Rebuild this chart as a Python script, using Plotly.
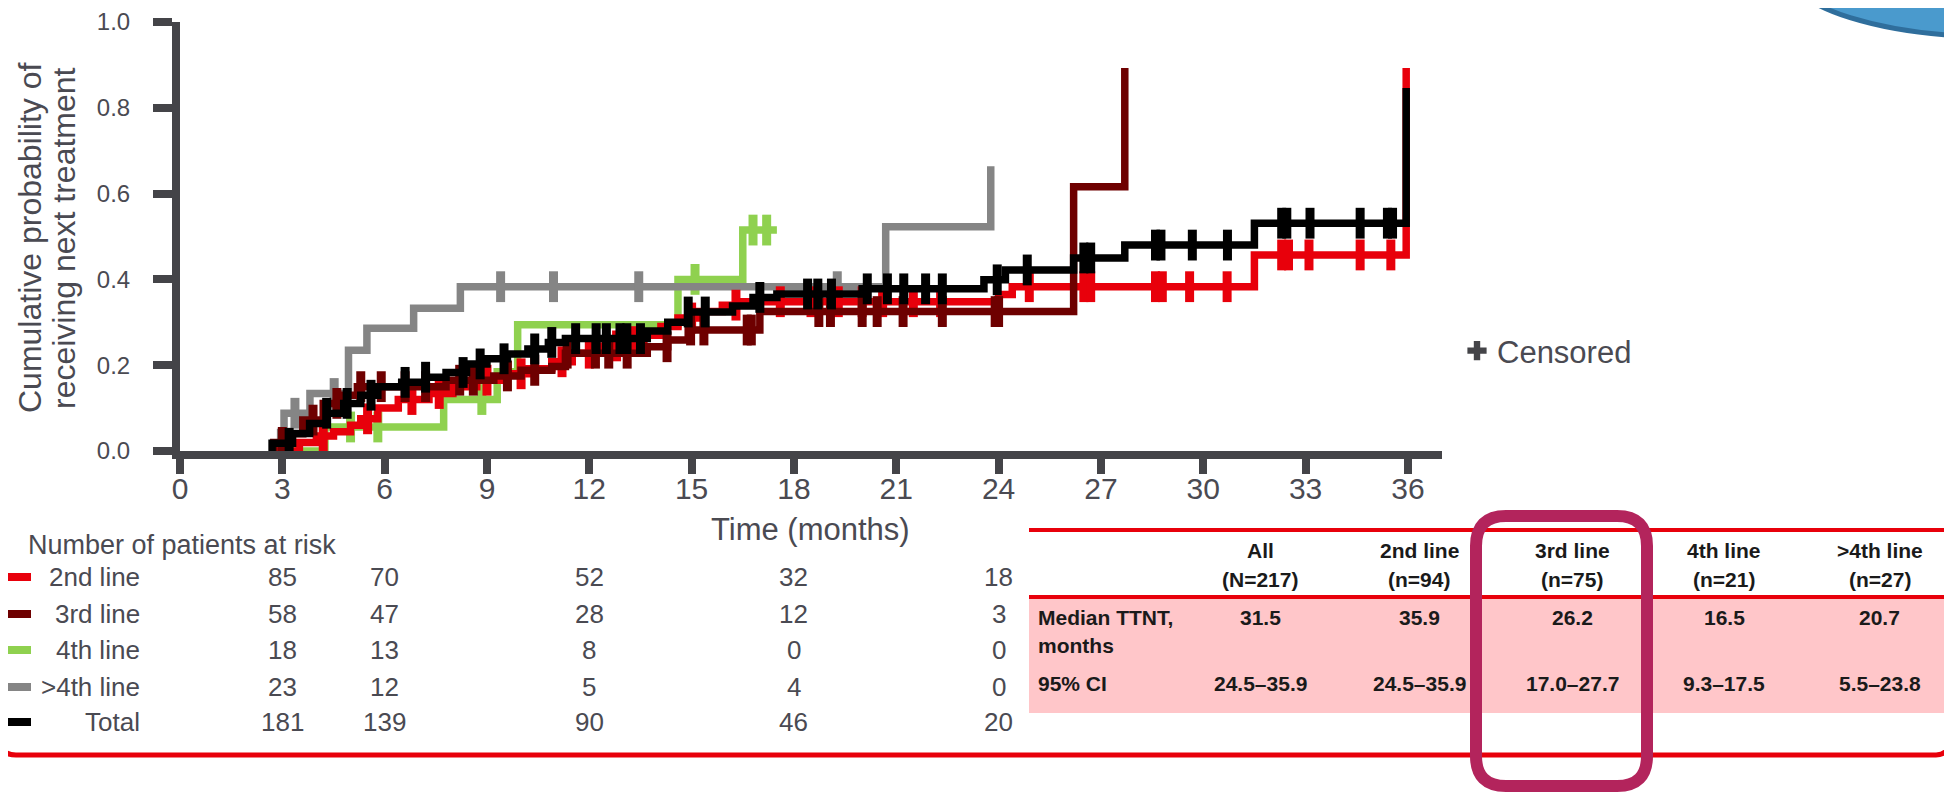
import plotly.graph_objects as go

FONT = "Arial, Liberation Sans, sans-serif"
TXT = "#4a4a52"
AXC = "#444448"

# ---------------- data ----------------
# step curves: time (months) of each step and cumulative probability after it
red_t = [2.8, 3.5, 4.0, 4.5, 5.0, 5.3, 5.8, 6.4, 7.3, 8.0, 8.7, 9.5, 10.2, 10.9, 11.5, 12.3, 13.0, 13.6, 14.1, 14.6, 15.2, 15.9, 16.5, 24.0, 24.4, 31.5, 35.95]
red_p = [0.0, 0.02, 0.035, 0.045, 0.06, 0.075, 0.1, 0.12, 0.134, 0.15, 0.165, 0.18, 0.192, 0.208, 0.228, 0.245, 0.255, 0.27, 0.29, 0.31, 0.325, 0.34, 0.348, 0.365, 0.383, 0.457, 0.893]
red_c = [4.2, 5.5, 6.8, 7.6, 9.0, 10.0, 11.2, 12.0, 12.8, 13.3, 15.0, 16.3, 17.6, 18.5, 19.3, 20.0, 20.6, 21.5, 22.3, 24.9, 26.5, 26.7, 28.6, 28.8, 29.6, 30.7, 32.3, 32.5, 33.1, 34.6, 35.5]

dred_t = [2.7, 2.75, 3.2, 3.6, 4.2, 4.8, 5.2, 7.8, 9.2, 10.0, 10.9, 11.3, 13.7, 14.3, 14.9, 17.0, 26.2, 27.7]
dred_p = [0.0, 0.02, 0.04, 0.072, 0.111, 0.13, 0.15, 0.165, 0.175, 0.188, 0.197, 0.228, 0.243, 0.259, 0.282, 0.325, 0.616, 0.893]
dred_c = [3.0, 3.9, 4.6, 5.3, 5.9, 6.6, 7.2, 8.2, 8.6, 9.6, 10.4, 11.35, 12.18, 12.57, 13.11, 14.28, 14.97, 15.36, 16.63, 16.75, 18.73, 19.07, 20.0, 20.44, 21.2, 22.35, 23.9, 24.0]

green_t = [3.1, 4.25, 7.73, 9.3, 9.9, 14.6, 16.5, 17.5]
green_p = [0.0, 0.056, 0.12, 0.185, 0.294, 0.40, 0.515, 0.515]
green_c = [5.0, 5.8, 8.85, 15.1, 16.8, 17.2]

gray_t = [2.85, 2.95, 3.05, 3.81, 4.94, 5.48, 6.85, 8.22, 20.69, 23.77]
gray_p = [0.0, 0.043, 0.088, 0.134, 0.235, 0.286, 0.333, 0.383, 0.523, 0.664]
gray_c = [3.37, 4.52, 9.4, 10.95, 13.45, 19.27]

total_t = [2.6, 2.7, 3.3, 3.8, 4.3, 4.8, 5.3, 5.8, 6.5, 7.2, 7.8, 8.4, 9.0, 9.6, 10.2, 10.8, 11.3, 13.7, 14.3, 14.9, 16.2, 16.8, 17.5, 20.0, 23.57, 24.2, 26.2, 27.7, 31.5, 35.95]
total_p = [0.0, 0.018, 0.041, 0.064, 0.088, 0.111, 0.13, 0.15, 0.16, 0.172, 0.183, 0.203, 0.215, 0.226, 0.238, 0.253, 0.262, 0.28, 0.30, 0.324, 0.338, 0.358, 0.366, 0.378, 0.399, 0.422, 0.45, 0.48, 0.531, 0.846]
total_c = [3.2, 4.3, 4.9, 5.6, 6.6, 7.2, 8.3, 8.8, 9.5, 10.4, 10.9, 11.6, 12.2, 12.5, 12.9, 13.1, 13.5, 14.9, 15.4, 17.0, 18.4, 18.7, 19.1, 20.15, 20.74, 21.22, 21.86, 22.35, 23.96, 24.84, 26.5, 26.7, 28.6, 28.76, 29.68, 30.71, 32.3, 32.45, 33.13, 34.6, 35.4, 35.55]

# at-risk table
risk_times = [3, 6, 12, 18, 24]
risk_labels = ["2nd line", "3rd line", "4th line", ">4th line", "Total"]
risk_2nd = [85, 70, 52, 32, 18]
risk_3rd = [58, 47, 28, 12, 3]
risk_4th = [18, 13, 8, 0, 0]
risk_gt4 = [23, 12, 5, 4, 0]
risk_total = [181, 139, 90, 46, 20]

# summary table
tbl_cols = ["All", "2nd line", "3rd line", "4th line", ">4th line"]
tbl_ns = ["(N=217)", "(n=94)", "(n=75)", "(n=21)", "(n=27)"]
tbl_median = ["31.5", "35.9", "26.2", "16.5", "20.7"]
tbl_ci = ["24.5–35.9", "24.5–35.9", "17.0–27.7", "9.3–17.5", "5.5–23.8"]

x_ticks = list(range(0, 37, 3))
y_ticks = [0.0, 0.2, 0.4, 0.6, 0.8, 1.0]
y_title_lines = ["Cumulative probability of", "receiving next treatment"]

# ---------------- styles ----------------
C_RED = "#E8000B"
C_DRED = "#6E0000"
C_GREEN = "#8FD14F"
C_GRAY = "#858585"
C_BLACK = "#000000"

W, H = 1952, 792
OFF = 8  # default page body margin
# plot area in on-screen pixels
L, R, T, B = 180, 1442, 22, 451


def px(x):
    return (x - L) / (R - L)


def py(y):
    return (B - y) / (B - T)


def step_val(ts, ps, t):
    v = ps[0]
    for a, b in zip(ts, ps):
        if a <= t:
            v = b
    return v


fig = go.Figure()

curves = [
    (green_t, green_p, green_c, C_GREEN),
    (gray_t, gray_p, gray_c, C_GRAY),
    (red_t, red_p, red_c, C_RED),
    (dred_t, dred_p, dred_c, C_DRED),
    (total_t, total_p, total_c, C_BLACK),
]
for ts, ps, cs, col in curves:
    fig.add_trace(go.Scatter(x=ts, y=ps, mode="lines", line=dict(color=col, width=7.5, shape="hv"),
                             showlegend=False, hoverinfo="skip"))
    fig.add_trace(go.Scatter(x=cs, y=[step_val(ts, ps, c) for c in cs], mode="markers",
                             marker=dict(symbol="line-ns-open", size=22, color=col, line=dict(color=col, width=9)),
                             showlegend=False, hoverinfo="skip"))

fig.add_trace(go.Scatter(x=[None], y=[None], mode="markers", name="Censored",
                         marker=dict(symbol="cross", size=16, color=AXC)))

shapes = []
# pink table band
shapes.append(dict(type="rect", xref="paper", yref="paper", x0=px(1029), x1=px(1960), y0=py(713), y1=py(597),
                   fillcolor="#FFC6C9", line=dict(width=0), layer="below"))
# table red rules
for yy in (530, 597):
    shapes.append(dict(type="line", xref="paper", yref="paper", x0=px(1029), x1=px(1960), y0=py(yy), y1=py(yy),
                       line=dict(color=C_RED, width=4)))
# bottom frame
pts = f"M {px(0)},{py(743)} Q {px(2)},{py(755)} {px(16)},{py(755)} L {px(1936)},{py(755)} Q {px(1948)},{py(755)} {px(1952)},{py(741)}"
shapes.append(dict(type="path", xref="paper", yref="paper", path=pts, line=dict(color=C_RED, width=5)))
# at-risk swatches
row_y = [577, 614, 650, 687, 722]
sw_cols = [C_RED, C_DRED, C_GREEN, C_GRAY, C_BLACK]
for yy, col in zip(row_y, sw_cols):
    shapes.append(dict(type="line", xref="paper", yref="paper", x0=px(-10), x1=px(31), y0=py(yy), y1=py(yy),
                       line=dict(color=col, width=8)))
# highlight rounded rectangle
x0, x1, y0, y1, r = 1476, 1647, 516, 786, 30
hp = (f"M {px(x0 + r)},{py(y0)} L {px(x1 - r)},{py(y0)} Q {px(x1)},{py(y0)} {px(x1)},{py(y0 + r)} "
      f"L {px(x1)},{py(y1 - r)} Q {px(x1)},{py(y1)} {px(x1 - r)},{py(y1)} "
      f"L {px(x0 + r)},{py(y1)} Q {px(x0)},{py(y1)} {px(x0)},{py(y1 - r)} "
      f"L {px(x0)},{py(y0 + r)} Q {px(x0)},{py(y0)} {px(x0 + r)},{py(y0)} Z")
shapes.append(dict(type="path", xref="paper", yref="paper", path=hp, line=dict(color="#B3245C", width=12)))
# blue ellipse (top-right)
shapes.append(dict(type="circle", xref="paper", yref="paper", x0=px(1788), x1=px(2212), y0=py(37), y1=py(-95),
                   fillcolor="#4A9ACD", line=dict(color="#2F6E9C", width=5)))

ann = []
for txt, xx in zip(y_title_lines, (30, 64)):
    ann.append(dict(text=txt, xref="paper", yref="paper", x=px(xx), y=py(238), textangle=-90, showarrow=False,
                    xanchor="center", yanchor="middle", font=dict(size=32, color=TXT, family=FONT)))
ann.append(dict(text="Time (months)", xref="paper", yref="paper", x=px(810), y=py(529), showarrow=False,
                xanchor="center", yanchor="middle", font=dict(size=31, color=TXT, family=FONT)))
ann.append(dict(text="Number of patients at risk", xref="paper", yref="paper", x=px(26), y=py(545), showarrow=False,
                xanchor="left", yanchor="middle", font=dict(size=27, color=TXT, family=FONT)))
risk_rows = [risk_2nd, risk_3rd, risk_4th, risk_gt4, risk_total]
for lab, vals, yy in zip(risk_labels, risk_rows, row_y):
    ann.append(dict(text=lab, xref="paper", yref="paper", x=px(142), y=py(yy), showarrow=False,
                    xanchor="right", yanchor="middle", font=dict(size=26, color=TXT, family=FONT)))
    for t, v in zip(risk_times, vals):
        ann.append(dict(text=str(v), xref="x", yref="paper", x=t, y=py(yy), showarrow=False,
                        xanchor="center", yanchor="middle", font=dict(size=26, color=TXT, family=FONT)))

col_x = [1260, 1419, 1572, 1724, 1880]
tf = dict(size=21, color="#1a1a1a", family=FONT)
for cx, c, n, m, ci in zip(col_x, tbl_cols, tbl_ns, tbl_median, tbl_ci):
    for txt, yy in ((c, 550), (n, 579), (m, 617), (ci, 683)):
        ann.append(dict(text=f"<b>{txt}</b>", xref="paper", yref="paper", x=px(cx), y=py(yy), showarrow=False,
                        xanchor="center", yanchor="middle", font=tf))
for txt, yy in (("Median TTNT,", 617), ("months", 645), ("95% CI", 683)):
    ann.append(dict(text=f"<b>{txt}</b>", xref="paper", yref="paper", x=px(1036), y=py(yy), showarrow=False,
                    xanchor="left", yanchor="middle", font=tf))

fig.update_layout(
    width=W, height=H, autosize=False,
    margin=dict(l=L - OFF, r=W - (R - OFF), t=T - OFF, b=H - (B - OFF), pad=0, autoexpand=False),
    paper_bgcolor="white", plot_bgcolor="white",
    font=dict(family=FONT, color=TXT),
    xaxis=dict(range=[0, 37], tickvals=x_ticks, showline=True, linecolor=AXC, linewidth=8,
               ticks="outside", ticklen=15, tickwidth=8, tickcolor=AXC, showgrid=False, zeroline=False,
               tickfont=dict(size=30, color=TXT, family=FONT), ticklabelstandoff=-11, automargin=False),
    yaxis=dict(range=[0, 1], tickvals=y_ticks, tickformat=".1f", showline=True, linecolor=AXC, linewidth=8,
               ticks="outside", ticklen=19, tickwidth=8, tickcolor=AXC, showgrid=False, zeroline=False,
               tickfont=dict(size=24, color=TXT, family=FONT), ticklabelstandoff=18, automargin=False),
    showlegend=True,
    legend=dict(x=px(1457), y=py(351), xanchor="left", yanchor="middle", bgcolor="rgba(0,0,0,0)",
                font=dict(size=31, color=TXT, family=FONT)),
    shapes=shapes, annotations=ann,
)

fig.write_html("out.html")
